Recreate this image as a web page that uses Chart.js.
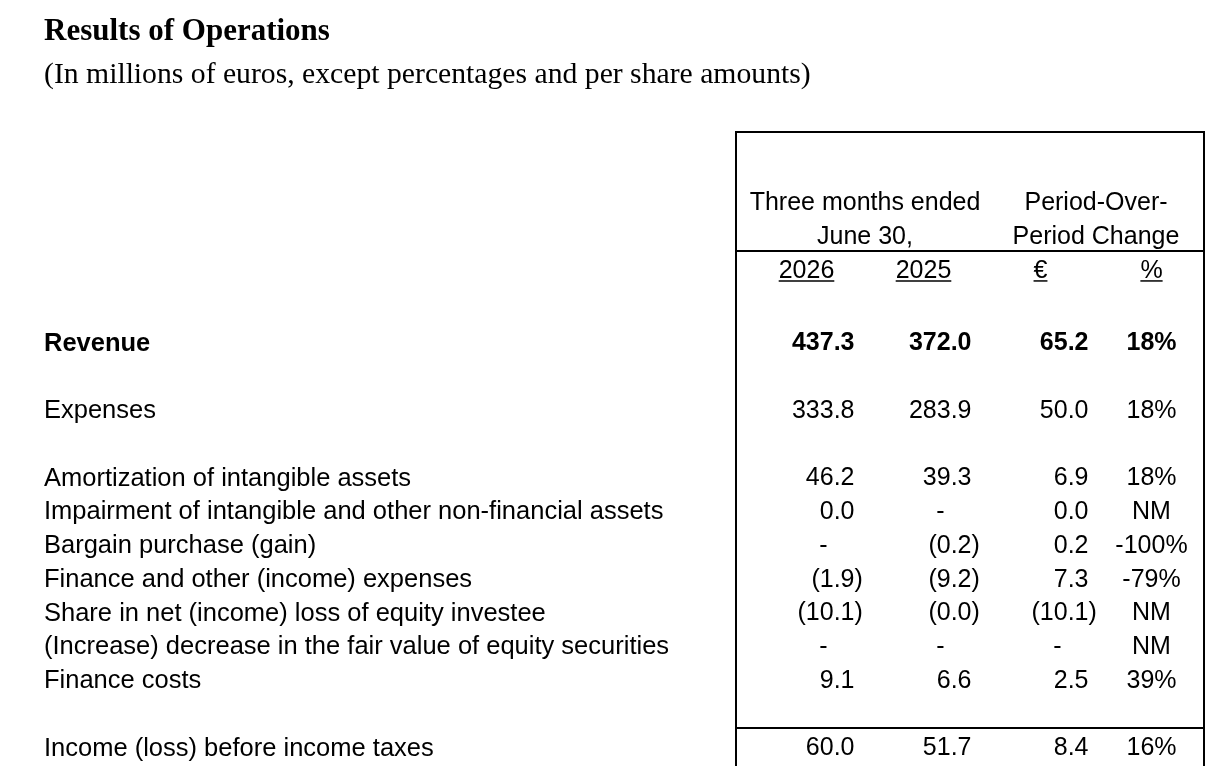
<!DOCTYPE html>
<html>
<head>
<meta charset="utf-8">
<title>Results of Operations</title>
<script src="https://cdn.jsdelivr.net/npm/chart.js@4/dist/chart.umd.min.js"></script>
<style>
  html, body { margin: 0; padding: 0; background: #fff; }
</style>
</head>
<body>
<canvas id="resultsChart" width="1220" height="766"></canvas>
<script>
// Table rows (a blank line follows the rows listed in blankAfter)
const rowLabels = [
    'Revenue',
    'Expenses',
    'Amortization of intangible assets',
    'Impairment of intangible and other non-financial assets',
    'Bargain purchase (gain)',
    'Finance and other (income) expenses',
    'Share in net (income) loss of equity investee',
    '(Increase) decrease in the fair value of equity securities',
    'Finance costs',
    'Income (loss) before income taxes'
];
const blankAfter = [0, 1, 8];
const boldRows = ['Revenue'];

// Column headers
const columns = ['2026', '2025', '€', '%'];
const periodHeader = ['Three months ended', 'June 30,'];
const changeHeader = ['Period-Over-', 'Period Change'];

// Values, null = "-" (amounts) or "NM" (percent)
const q2026 = [437.3, 333.8, 46.2, 0.0, null, -1.9, -10.1, null, 9.1, 60.0];
const q2025 = [372.0, 283.9, 39.3, null, -0.2, -9.2, -0.0, null, 6.6, 51.7];
const changeEur = [65.2, 50.0, 6.9, 0.0, 0.2, 7.3, -10.1, null, 2.5, 8.4];
const changePct = [18, 18, 18, null, -100, -79, null, null, 39, 16];

const columnValues = [q2026, q2025, changeEur, changePct];

// row index -> slot on the y scale, leaving the blank lines
const slots = rowLabels.map((_, i) => i + blankAfter.filter(b => b < i).length);
const headerRow = -2.15;   // "2026 / 2025 / € / %" line, two header lines sit above it

const SANS = "'Liberation Sans', Arial, sans-serif";
const SERIF = "'Liberation Serif', 'Times New Roman', serif";
const FONT_SIZE = 25;

Chart.defaults.color = '#000';
Chart.defaults.font.family = SANS;

function cellFont(bold) {
    return (bold ? 'bold ' : '') + FONT_SIZE + 'px ' + SANS;
}

function drawAmount(ctx, v, right, py) {
    if (v === null) {
        ctx.textAlign = 'center';
        ctx.fillText('-', right - 31, py);
        return;
    }
    const s = Math.abs(v).toFixed(1);
    ctx.textAlign = 'right';
    if (v < 0 || Object.is(v, -0)) {
        const close = ctx.measureText(')').width;
        ctx.fillText('(' + s + ')', right + close, py);
    } else {
        ctx.fillText(s, right, py);
    }
}

const tablePlugin = {
    id: 'tableCells',
    afterDatasetsDraw(chart) {
        const { ctx, chartArea, scales: { x, y } } = chart;
        ctx.save();
        ctx.fillStyle = '#000';
        ctx.strokeStyle = '#000';

        // box around the figures
        ctx.lineWidth = 2;
        ctx.beginPath();
        ctx.moveTo(chartArea.left, chartArea.top);
        ctx.lineTo(chartArea.right, chartArea.top);
        ctx.lineTo(chartArea.right, chartArea.bottom);
        [headerRow - 0.6, slots[slots.length - 1] - 0.6].forEach(v => {
            const py = Math.round(y.getPixelForValue(v));
            ctx.moveTo(chartArea.left, py);
            ctx.lineTo(chartArea.right, py);
        });
        ctx.stroke();

        // headers
        ctx.font = cellFont(false);
        ctx.textBaseline = 'middle';
        ctx.textAlign = 'center';
        const headX = columns.map((_, c) => x.getPixelForValue(c) + (c < 3 ? 12 : 6));
        periodHeader.forEach((t, k) => {
            ctx.fillText(t, (headX[0] + headX[1]) / 2, y.getPixelForValue(headerRow - 2 + k));
        });
        changeHeader.forEach((t, k) => {
            ctx.fillText(t, (headX[2] + headX[3]) / 2, y.getPixelForValue(headerRow - 2 + k));
        });
        ctx.lineWidth = 1.5;
        columns.forEach((t, c) => {
            const py = y.getPixelForValue(headerRow);
            const w = ctx.measureText(t).width;
            ctx.fillText(t, headX[c], py);
            ctx.beginPath();
            ctx.moveTo(headX[c] - w / 2, py + 10);
            ctx.lineTo(headX[c] + w / 2, py + 10);
            ctx.stroke();
        });

        // cells
        chart.data.datasets.forEach((ds, c) => {
            const meta = chart.getDatasetMeta(c);
            meta.data.forEach((pt, i) => {
                const v = columnValues[c][i];
                ctx.font = cellFont(boldRows.includes(rowLabels[i]));
                if (c < 3) {
                    drawAmount(ctx, v, pt.x + 60, pt.y);
                } else {
                    ctx.textAlign = 'center';
                    ctx.fillText(v === null ? 'NM' : v + '%', pt.x + 6, pt.y);
                }
            });
        });
        ctx.restore();
    }
};

new Chart(document.getElementById('resultsChart'), {
    type: 'scatter',
    data: {
        datasets: columns.map((col, c) => ({
            label: col,
            data: rowLabels.map((_, i) => ({ x: col, y: slots[i] })),
            pointRadius: 0,
            pointHoverRadius: 0
        }))
    },
    options: {
        responsive: false,
        animation: false,
        events: [],
        layout: { padding: { left: 44, right: 16, top: 0, bottom: 0 } },
        plugins: {
            legend: { display: false },
            tooltip: { enabled: false },
            title: {
                display: true,
                text: 'Results of Operations',
                align: 'start',
                color: '#000',
                font: { family: SERIF, size: 31, weight: 'bold' },
                padding: { top: 13.4, bottom: 4 }
            },
            subtitle: {
                display: true,
                text: '(In millions of euros, except percentages and per share amounts)',
                align: 'start',
                color: '#000',
                font: { family: SERIF, size: 29.7 },
                padding: { top: 2.58, bottom: 39.18 }
            }
        },
        scales: {
            x: {
                type: 'category',
                labels: columns,
                offset: true,
                display: false
            },
            y: {
                type: 'linear',
                reverse: true,
                bounds: 'data',
                min: -6.267,
                max: 12.519,
                grid: { display: false },
                border: { display: true, color: '#000', width: 2 },
                afterBuildTicks: scale => {
                    scale.ticks = slots.map(s => ({ value: s }));
                },
                afterFit: scale => {
                    scale.width = 692;
                    scale.paddingTop = 0;
                    scale.paddingBottom = 0;
                },
                ticks: {
                    autoSkip: false,
                    crossAlign: 'far',
                    color: '#000',
                    callback: (value, index) => rowLabels[index],
                    font: ctx => ({
                        family: SANS,
                        size: 25.5,
                        weight: boldRows.includes(rowLabels[ctx.index]) ? 'bold' : 'normal'
                    })
                }
            }
        }
    },
    plugins: [tablePlugin]
});
</script>
</body>
</html>
